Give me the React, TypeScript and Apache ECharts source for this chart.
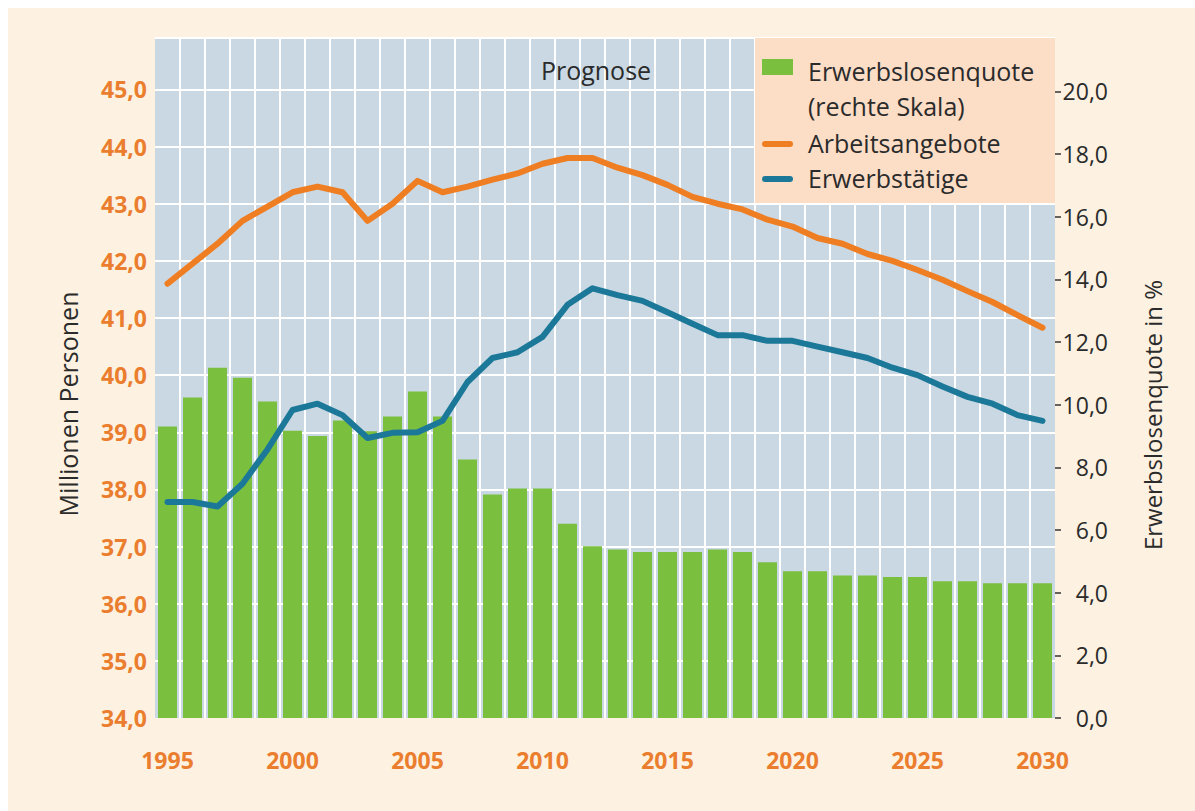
import React, { useEffect, useRef } from "react";
import * as echarts from "echarts";

const years = [
  "1995","1996","1997","1998","1999","2000","2001","2002","2003","2004",
  "2005","2006","2007","2008","2009","2010","2011","2012","2013","2014",
  "2015","2016","2017","2018","2019","2020","2021","2022","2023","2024",
  "2025","2026","2027","2028","2029","2030",
];

// Millionen Personen (left axis)
const arbeitsangebote = [
  41.6, 41.95, 42.3, 42.7, 42.95, 43.2, 43.3, 43.2, 42.7, 43.0,
  43.4, 43.2, 43.3, 43.42, 43.53, 43.7, 43.8, 43.8, 43.63, 43.5,
  43.33, 43.12, 43.0, 42.9, 42.72, 42.6, 42.4, 42.3, 42.12, 42.0,
  41.84, 41.67, 41.47, 41.28, 41.05, 40.83,
];

const erwerbstaetige = [
  37.78, 37.78, 37.7, 38.1, 38.7, 39.39, 39.5, 39.3, 38.9, 38.99,
  39.0, 39.2, 39.88, 40.3, 40.4, 40.67, 41.23, 41.52, 41.4, 41.3,
  41.1, 40.9, 40.7, 40.7, 40.6, 40.6, 40.5, 40.4, 40.3, 40.13,
  40.0, 39.8, 39.62, 39.5, 39.3, 39.2,
];

// Erwerbslosenquote in % (right axis)
const erwerbslosenquote = [
  9.3, 10.23, 11.18, 10.86, 10.1, 9.17, 9.0, 9.49, 9.15, 9.62,
  10.42, 9.62, 8.25, 7.13, 7.32, 7.32, 6.2, 5.48, 5.38, 5.3,
  5.3, 5.3, 5.38, 5.3, 4.97, 4.68, 4.68, 4.55, 4.55, 4.5,
  4.5, 4.36, 4.36, 4.3, 4.3, 4.3,
];

const leftTicks = [34, 35, 36, 37, 38, 39, 40, 41, 42, 43, 44, 45];
const rightTicks = [0, 2, 4, 6, 8, 10, 12, 14, 16, 18, 20];

const FONT = "'Open Sans', 'Noto Sans', sans-serif";
const ORANGE_TXT = "#ea7e2e";
const DARK = "#2b2b2b";
const C_BAR = "#7bbf3f";
const C_ORANGE = "#ef7d22";
const C_TEAL = "#1c7898";

const fmt = (v: number) => v.toFixed(1).replace(".", ",");

export default function App() {
  const ref = useRef<HTMLDivElement>(null);

  useEffect(() => {
    document.body.style.margin = "0";
    document.documentElement.style.overflow = "hidden";
    if (!ref.current) return;
    const chart = echarts.init(ref.current, null, { renderer: "svg" });

    const Z = 100;
    const legendText = (text: string, x: number, y: number) => ({
      type: "text",
      z: Z + 2,
      x,
      y,
      style: {
        text,
        fill: DARK,
        font: `25px ${FONT}`,
        textAlign: "left",
        textVerticalAlign: "middle",
      },
    });

    chart.setOption({
      animation: false,
      backgroundColor: "#fdf1e1",
      grid: {
        left: 147,
        top: 30,
        width: 900,
        height: 680,
        show: true,
        backgroundColor: "#c9d8e2",
        borderWidth: 0,
        containLabel: false,
      },
      xAxis: {
        type: "category",
        data: years,
        boundaryGap: true,
        axisLine: { show: false },
        axisTick: { show: false },
        axisLabel: {
          interval: 4,
          color: ORANGE_TXT,
          fontWeight: "bold",
          fontSize: 23,
          fontFamily: FONT,
          margin: 30,
        },
        splitLine: {
          show: true,
          interval: 0,
          showMinLine: false,
          showMaxLine: false,
          lineStyle: { color: "#ffffff", width: 2 },
        },
      },
      yAxis: [
        {
          type: "value",
          position: "left",
          min: 34,
          max: 45.9,
          interval: 1,
          axisLine: { show: false },
          axisTick: { show: false },
          axisLabel: {
            customValues: leftTicks,
            formatter: (v: number) => fmt(v),
            color: ORANGE_TXT,
            fontWeight: "bold",
            fontSize: 23,
            fontFamily: FONT,
            margin: 8,
          },
          splitLine: {
            show: true,
            showMinLine: false,
            lineStyle: { color: "#ffffff", width: 2 },
          },
        },
        {
          type: "value",
          position: "right",
          min: 0,
          max: 21.7,
          interval: 2,
          axisLine: { show: false },
          axisTick: {
            show: true,
            customValues: rightTicks,
            length: 6,
            lineStyle: { color: "#333333", width: 1.5 },
          },
          axisLabel: {
            customValues: rightTicks,
            formatter: (v: number) => fmt(v),
            color: DARK,
            fontSize: 23,
            fontFamily: FONT,
            align: "right",
            margin: 53,
          },
          splitLine: { show: false },
        },
      ],
      series: [
        {
          name: "Erwerbslosenquote (rechte Skala)",
          type: "bar",
          yAxisIndex: 1,
          data: erwerbslosenquote,
          barCategoryGap: "24%",
          itemStyle: { color: C_BAR },
          z: 2,
        },
        {
          name: "Arbeitsangebote",
          type: "line",
          yAxisIndex: 0,
          data: arbeitsangebote,
          symbol: "none",
          showSymbol: false,
          lineStyle: { color: C_ORANGE, width: 6, join: "round", cap: "round" },
          itemStyle: { color: C_ORANGE },
          z: 3,
        },
        {
          name: "Erwerbstätige",
          type: "line",
          yAxisIndex: 0,
          data: erwerbstaetige,
          symbol: "none",
          showSymbol: false,
          lineStyle: { color: C_TEAL, width: 6, join: "round", cap: "round" },
          itemStyle: { color: C_TEAL },
          z: 3,
        },
      ],
      graphic: [
        {
          type: "rect",
          z: Z,
          shape: { x: 747, y: 30, width: 300, height: 165 },
          style: { fill: "#fcddc6" },
        },
        {
          type: "rect",
          z: Z + 1,
          shape: { x: 754, y: 51, width: 31, height: 16 },
          style: { fill: C_BAR },
        },
        legendText("Erwerbslosenquote", 800, 63),
        legendText("(rechte Skala)", 800, 98),
        {
          type: "line",
          z: Z + 1,
          shape: { x1: 757, y1: 136, x2: 782, y2: 136 },
          style: { stroke: C_ORANGE, lineWidth: 6, lineCap: "round" },
        },
        legendText("Arbeitsangebote", 800, 135),
        {
          type: "line",
          z: Z + 1,
          shape: { x1: 757, y1: 171, x2: 782, y2: 171 },
          style: { stroke: C_TEAL, lineWidth: 6, lineCap: "round" },
        },
        legendText("Erwerbstätige", 800, 170),
        {
          type: "text",
          z: Z,
          x: 588,
          y: 62,
          style: {
            text: "Prognose",
            fill: DARK,
            font: `25px ${FONT}`,
            textAlign: "center",
            textVerticalAlign: "middle",
          },
        },
        {
          type: "text",
          z: Z,
          x: 60,
          y: 396,
          rotation: Math.PI / 2,
          style: {
            text: "Millionen Personen",
            fill: DARK,
            font: `25px ${FONT}`,
            textAlign: "center",
            textVerticalAlign: "middle",
          },
        },
        {
          type: "text",
          z: Z,
          x: 1144,
          y: 407,
          rotation: Math.PI / 2,
          style: {
            text: "Erwerbslosenquote in %",
            fill: DARK,
            font: `24px ${FONT}`,
            textAlign: "center",
            textVerticalAlign: "middle",
          },
        },
      ],
    });

    return () => {
      chart.dispose();
    };
  }, []);

  return (
    <div
      style={{
        position: "relative",
        width: 1195,
        height: 811,
        background: "#ffffff",
        overflow: "hidden",
      }}
    >
      <div
        ref={ref}
        style={{
          position: "absolute",
          left: 8,
          top: 8,
          width: 1187,
          height: 803,
        }}
      />
    </div>
  );
}
